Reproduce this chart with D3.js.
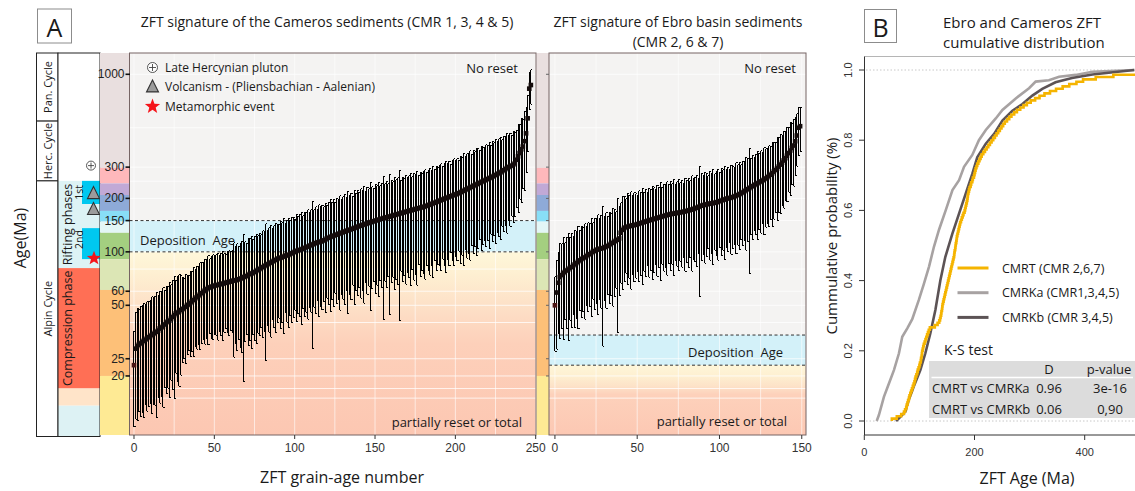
<!DOCTYPE html>
<html><head><meta charset="utf-8">
<script src="https://cdn.jsdelivr.net/npm/d3@7"></script>
<style>
body{margin:0;background:#fff}
svg{display:block}
text{font-family:"Open Sans",sans-serif;fill:#1a1a1a}
.tk{font-family:"Liberation Sans",Arial,sans-serif;fill:#333}
</style>
</head><body>
<svg id="chart" width="1135" height="491"></svg>
<script>
// ---------------- DATA ----------------
// Panel A left: Cameros sediments (CMR 1,3,4,5) - central ZFT ages (Ma), sorted
const cmrAge = [
23,28.5,29.5,30,30.5,31,31.5,32,32.5,33,
33.5,34,34.5,35,35.5,36,37,37.5,38,39,
40,40.5,41,42,43,44,45,45.5,46,47,
47.5,48,49,50,50.5,51.5,52.5,53.5,54.5,55.5,
56.5,57.5,58.5,59.5,60.5,61.5,62.5,63,63.5,64,
64.5,65,65,65.5,66,66,66.5,67,67.5,67.5,
68,68.5,69,69,69.5,70,70.5,71,72,72.5,
73,74,75,75.5,76,77,78,79,80,81,
82,83,84,85,86,87,88,89,90,91,
92,92.5,93,94,95,95.5,96,97,98,99,
100,101,102,102.5,103,104,105,106,107,108,
109,110,111,112,113,113.5,114,115,116,117,
119,120,121,122,123,124,125,126,127,128,
129,130,131,132,133,134,135,136,137,138.5,
139.5,140.5,141.5,142.5,143.5,144.5,145.5,146.5,147.5,148.5,
149.5,150.5,151.5,152.5,153.5,154.5,155.5,156.5,157,158,
159,160,161,162,163,164,165,166,167,168,
169,170,171,172,173,174,175,176,177,178,
179,180,181.5,183,184.5,186,187.5,189,190.5,192,
194,195.5,197,199,200.5,202,204,205.5,207,209,
210.5,212,214,216,218,220.5,223,225,227.5,230,
232,234.5,237,239.5,242,244.5,247,249.5,252,254.5,
257,259.5,262,265,268,271,274,277,280,284,
288,292,296,300,303,306,310,315,330,345,
360,378,392,420,465,565,830,870];
// relative 2-sigma error (%) of each grain age
const cmrErr = [
55,60,62,58,61,60,63,57,61,59,
58,64,60,61,67,58,62,59,65,56,
60,58,63,55,61,66,54,59,62,57,
50,48,52,47,45,50,48,52,46,49,
47,51,48,46,50,47,52,45,49,50,
47,48,51,46,49,52,47,45,48,50,
47,49,63,56,60,54,59,62,74,57,
53,60,58,62,55,59,61,56,58,54,
60,57,71,55,59,62,53,58,61,56,
54,60,57,63,52,58,61,55,59,57,
53,60,56,58,62,54,59,57,61,55,
58,74,56,60,53,62,57,59,55,61,
54,58,62,56,60,53,59,57,63,55,
58,61,54,66,57,60,52,63,56,59,
55,61,57,64,53,60,56,68,58,54,
61,57,63,55,59,73,56,60,54,72,
58,55,62,57,60,75,53,59,56,61,
55,58,62,54,60,57,63,52,59,56,
58,61,54,57,60,55,62,53,59,56,
57,60,54,58,62,55,59,52,57,60,
55,58,53,60,56,62,54,59,57,61,
53,58,55,60,57,52,59,56,54,58,
55,60,52,57,54,59,53,56,58,51,
55,52,57,50,54,48,53,50,46,52,
45,50,42,47,40,35,24,22];

// Panel A right: Ebro basin sediments (CMR 2,6,7)
const ebroAge = [
50,59,67,72,74,76,77,78.5,79.5,81,
82,83.5,85,86.5,88,89.5,91,92,93,94.5,
96,97,98.5,100,101,102.5,103,104,104.5,105,
106,107,108,109.5,111,112.5,114,115.5,117,119,
128,133,136,137.5,138.5,139.5,140,141,141.5,142,
143,144,145,146,147,148,149,150,151,152,
153,154,155,156,157,158,159,160,161,162,
163,163.5,164,165,165.5,166,167,167.5,168,169,
170,171,172,173,174,175.5,177,178.5,180,182,
183,184,185,186,187,187.5,188,189,190,191,
193,194,196,197,199,200,201,202,203.5,205,
207,209,211,213,216,219,222,225,228,231,
234,237,240,243,246,249,252,255,259,263,
267,272,277,283,289,295,302,310,318,327,
337,348,360,372,385,397,420,452,500,510];
const ebroErr = [
45,52,48,55,50,58,46,53,60,49,
54,47,56,51,58,48,53,50,55,47,
52,49,56,46,53,50,57,48,54,72,
50,55,47,53,49,56,51,46,70,52,
48,54,50,45,53,49,56,47,52,50,
46,53,49,55,47,51,44,52,48,54,
50,45,53,48,56,46,51,49,54,47,
52,48,55,46,50,53,47,51,45,54,
49,52,46,55,48,50,53,45,69,51,
47,53,49,44,52,48,55,46,50,53,
45,51,48,54,47,50,44,52,49,46,
53,48,51,45,50,47,54,49,67,46,
50,44,48,52,46,49,43,51,47,45,
48,44,50,46,42,49,45,47,43,46,
42,45,40,44,38,41,36,33,30,28];

// deposition ages (Ma)
const cmrDeposition = [100, 150];
const ebroDeposition = [23, 34];

// tick labels
const ageTicks = [1000, 300, 200, 150, 100, 60, 50, 25, 20];
const ageGrid = [1000, 500, 300, 250, 200, 150, 100, 80, 60, 50, 40, 25, 20, 17, 15];
const grainTicksCmr = [0, 50, 100, 150, 200, 250];
const grainTicksEbro = [0, 50, 100, 150];
const grainGrid = [0, 25, 50, 75, 100, 125, 150, 175, 200, 225, 250];

// chronostratigraphic strip: boundaries (Ma)
const chronoBounds = [1318, 297, 243, 209, 170, 148, 128, 91, 61, 20, 9.3];
// geological cycles / phases (Ma)
const cycleNames = ["Pan. Cycle", "Herc. Cycle", "Alpin Cycle"];
const cycleBounds = [1318, 545, 251, 9.3];
const riftZone = [251, 81];
const rift1 = [251, 186];
const rift2 = [136, 91];
const compressionZone = [81, 17];
const postZone1 = [17, 13.6];
const postZone2 = [13.6, 9.3];
const plutonAge = 306;
const volcanismAges = [214, 174];
const metamorphicAge = 92;

// Panel B: ECDF knots (age Ma, cumulative prob)
const cmrkaAge = [22.5,26.5,35.6,44.7,53.8,62.9,68.9,78,87,99,108,117.5,126.5,135.6,147.7,160,172,181,196,208,220.5,238.6,250.7,274.9,299,311,335,353.6,383.8,414,490];
const cmrkaProb = [0,0.017,0.069,0.107,0.145,0.193,0.24,0.264,0.29,0.345,0.39,0.44,0.497,0.545,0.6,0.658,0.686,0.724,0.758,0.8,0.829,0.862,0.886,0.919,0.948,0.967,0.971,0.981,0.986,0.995,1];
const cmrkbAge = [57.6,65.5,74.5,80.6,89.7,101.7,110.8,119.9,129,138,147,159.7,171.8,183.9,196,205,220.5,235.6,250.7,268.8,287,305,323,347,377,414,490];
const cmrkbProb = [0,0.012,0.027,0.06,0.098,0.145,0.193,0.25,0.316,0.4,0.467,0.533,0.59,0.647,0.704,0.751,0.79,0.818,0.856,0.884,0.903,0.927,0.946,0.965,0.977,0.987,1];
const legendLabels = ["CMRT (CMR 2,6,7)", "CMRKa (CMR1,3,4,5)", "CMRKb (CMR 3,4,5)"];
const ksHeader = ["D", "p-value"];
const ksRows = [["CMRT vs CMRKa", "0.96", "3e-16"], ["CMRT vs CMRKb", "0.06", "0,90"]];
const probTicks = [0, 0.2, 0.4, 0.6, 0.8, 1.0];
const ageTicksB = [0, 200, 400];

// ---------------- STYLES ----------------
const chronoColors = ["#e9dfdf","#feb8bb","#c1a9d6","#8eaad8","#88def7","#e3f6f6","#a4cf80","#dce6b5","#fdc078","#feea94"];
const lineColors = ["#f5b400", "#a7a2a2", "#5c5355"];

// ---------------- DRAW ----------------
const svg = d3.select("#chart");
const defs = svg.append("defs");
const PT = 53, PB = 435;
const y = d3.scaleLog().domain([9.3, 1318]).range([PB, PT]);

function addGrad(id, stops) {
  const g = defs.append("linearGradient").attr("id", id).attr("x1", 0).attr("y1", 0).attr("x2", 0).attr("y2", 1);
  stops.forEach(s => g.append("stop").attr("offset", s[0]).attr("stop-color", s[1]));
}
addGrad("g1", [[0,"#fef7da"],[0.1,"#fef1d3"],[0.3,"#fde0c7"],[0.5,"#fdd0ba"],[1,"#fcc7b2"]]);
addGrad("g2", [[0,"#fef6d9"],[0.15,"#fef0d1"],[0.3,"#fde2c8"],[0.42,"#fdd1bb"],[1,"#fcc8b3"]]);

// "A" / "B" boxes
function letterBox(x, yy, w, h, t) {
  svg.append("rect").attr("x", x).attr("y", yy).attr("width", w).attr("height", h)
    .attr("fill", "#fff").attr("stroke", "#8c8c8c").attr("stroke-width", 1);
  svg.append("text").attr("x", x + w / 2).attr("y", yy + h / 2 + 1).attr("text-anchor", "middle")
    .attr("dominant-baseline", "central").style("font-size", "25px").text(t);
}
letterBox(37.5, 9, 34, 34, "A");
letterBox(864.5, 9.5, 32, 33, "B");

// titles
svg.append("text").attr("x", 327).attr("y", 27).attr("text-anchor", "middle").style("font-size", "14px")
  .text("ZFT signature of the Cameros sediments (CMR 1, 3, 4 & 5)");
svg.append("text").attr("x", 678).attr("y", 27).attr("text-anchor", "middle").style("font-size", "14px")
  .text("ZFT signature of Ebro basin sediments");
svg.append("text").attr("x", 678).attr("y", 47).attr("text-anchor", "middle").style("font-size", "14px")
  .text("(CMR 2, 6 & 7)");

// Age(Ma)
svg.append("text").attr("transform", "translate(20,238) rotate(-90)").attr("text-anchor", "middle")
  .attr("dominant-baseline", "central").style("font-size", "16px").text("Age(Ma)");

// cycles column
const cyc = svg.append("g");
cycleNames.forEach((n, i) => {
  const y0 = i === 0 ? PT : y(cycleBounds[i]);
  const y1 = i === cycleNames.length - 1 ? 436.5 : y(cycleBounds[i + 1]);
  cyc.append("rect").attr("x", 36.5).attr("y", y0).attr("width", 21.5).attr("height", y1 - y0)
    .attr("fill", "#fff").attr("stroke", "#222").attr("stroke-width", 1);
  cyc.append("text").attr("transform", `translate(47.5,${(y0 + y1) / 2}) rotate(-90)`).attr("text-anchor", "middle")
    .attr("dominant-baseline", "central").style("font-size", "11px").text(n);
});

// phases column
const ph = svg.append("g");
ph.append("rect").attr("x", 58).attr("y", PT).attr("width", 42).attr("height", 436.5 - PT).attr("fill", "#fff");
function zone(a, x0, x1, col, yEnd) {
  const yy0 = y(a[0]), yy1 = yEnd || y(a[1]);
  ph.append("rect").attr("x", x0).attr("y", yy0).attr("width", x1 - x0).attr("height", yy1 - yy0).attr("fill", col);
}
zone(riftZone, 58, 100, "#ddf3f5");
zone(rift1, 82, 100, "#00c8f0");
zone(rift2, 82, 100, "#00c8f0");
zone(compressionZone, 58, 100, "#ff6f55");
zone(postZone1, 58, 100, "#ffe4c9");
zone(postZone2, 58, 100, "#ddf2f4", 436.5);
ph.append("rect").attr("x", 58).attr("y", PT).attr("width", 42).attr("height", 436.5 - PT)
  .attr("fill", "none").attr("stroke", "#222").attr("stroke-width", 1);
const mid = (a) => (y(a[0]) + y(a[1])) / 2;
ph.append("text").attr("transform", `translate(67.5,${mid(riftZone)}) rotate(-90)`).attr("text-anchor", "middle")
  .attr("dominant-baseline", "central").style("font-size", "12.5px").text("Rifting phases");
ph.append("text").attr("transform", `translate(78.5,${mid(rift1)}) rotate(-90)`).attr("text-anchor", "middle")
  .attr("dominant-baseline", "central").style("font-size", "10.5px").text("1st");
ph.append("text").attr("transform", `translate(78.5,${mid(rift2) - 4}) rotate(-90)`).attr("text-anchor", "middle")
  .attr("dominant-baseline", "central").style("font-size", "10.5px").text("2nd");
ph.append("text").attr("transform", `translate(67.5,${mid(compressionZone)}) rotate(-90)`).attr("text-anchor", "middle")
  .attr("dominant-baseline", "central").style("font-size", "12.5px").text("Compression phase");

// symbols
function circlePlus(g, cx, cy, r) {
  g.append("circle").attr("cx", cx).attr("cy", cy).attr("r", r).attr("fill", "#fff").attr("stroke", "#444").attr("stroke-width", 0.9);
  g.append("path").attr("d", `M${cx - r + 1.5},${cy}H${cx + r - 1.5}M${cx},${cy - r + 1.5}V${cy + r - 1.5}`).attr("stroke", "#444").attr("stroke-width", 0.9);
}
function tri(g, cx, cy, s) {
  g.append("path").attr("d", `M${cx},${cy - s * 0.55}L${cx + s / 2},${cy + s * 0.45}L${cx - s / 2},${cy + s * 0.45}Z`)
    .attr("fill", "#9b9b9b").attr("stroke", "#333").attr("stroke-width", 1.1);
}
function star(g, cx, cy, R) {
  const pts = d3.range(10).map(i => {
    const a = -Math.PI / 2 + i * Math.PI / 5, rr = i % 2 ? R * 0.42 : R;
    return [cx + rr * Math.cos(a), cy + rr * Math.sin(a)];
  });
  g.append("path").attr("d", "M" + pts.join("L") + "Z").attr("fill", "#f5141a");
}
circlePlus(ph, 91, y(plutonAge), 4.5);
volcanismAges.forEach(a => tri(ph, 93.5, y(a), 12));
star(ph, 94, y(metamorphicAge), 7.5);

// chrono strips
function strip(x0, x1) {
  chronoColors.forEach((c, i) => {
    const yy0 = y(chronoBounds[i]), yy1 = y(chronoBounds[i + 1]);
    svg.append("rect").attr("x", x0).attr("y", yy0).attr("width", x1 - x0).attr("height", yy1 - yy0).attr("fill", c);
  });
}
strip(100, 129.5);
strip(536.5, 549);

// panels
function panel(cfg) {
  const { id, x0, x1, xs, ages, errs, dep, grad, gridX, ticksX } = cfg;
  defs.append("clipPath").attr("id", "cl" + id).append("rect")
    .attr("x", x0).attr("y", PT).attr("width", x1 - x0).attr("height", PB - PT);
  const g = svg.append("g").attr("clip-path", `url(#cl${id})`);
  g.append("rect").attr("x", x0).attr("y", PT).attr("width", x1 - x0).attr("height", PB - PT).attr("fill", "#f4f3f2");
  g.append("rect").attr("x", x0).attr("y", y(dep[1])).attr("width", x1 - x0).attr("height", y(dep[0]) - y(dep[1])).attr("fill", "#d3f1f9");
  g.append("rect").attr("x", x0).attr("y", y(dep[0])).attr("width", x1 - x0).attr("height", PB - y(dep[0])).attr("fill", `url(#${grad})`);
  g.selectAll(".gy").data(ageGrid).join("line").attr("x1", x0).attr("x2", x1)
    .attr("y1", d => y(d)).attr("y2", d => y(d)).attr("stroke", "#fff").attr("stroke-opacity", 0.75).attr("stroke-width", 1);
  g.selectAll(".gx").data(gridX).join("line").attr("y1", PT).attr("y2", PB)
    .attr("x1", d => xs(d)).attr("x2", d => xs(d)).attr("stroke", "#fff").attr("stroke-opacity", 0.6).attr("stroke-width", 1);
  g.selectAll(".dl").data(dep).join("line").attr("x1", x0).attr("x2", x1)
    .attr("y1", d => y(d)).attr("y2", d => y(d)).attr("stroke", "#333").attr("stroke-width", 1).attr("stroke-dasharray", "3,2.5");
  const lo = (d, i) => y(d * (1 - errs[i] / 100));
  const hi = (d, i) => y(d * (1 + errs[i] / 100));
  const bars = g.append("g").attr("shape-rendering", "crispEdges");
  bars.selectAll(".eb").data(ages).join("line")
    .attr("x1", (d, i) => xs(i)).attr("x2", (d, i) => xs(i))
    .attr("y1", lo).attr("y2", hi).attr("stroke", "#000").attr("stroke-width", 1);
  bars.selectAll(".ct").data(ages).join("path")
    .attr("d", (d, i) => `M${xs(i)},${hi(d, i)}H${xs(i) + 1.6}M${xs(i)},${lo(d, i)}H${xs(i) + 1.6}`)
    .attr("stroke", "#000").attr("stroke-width", 1).attr("fill", "none");
  g.selectAll(".pt").data(ages).join("rect")
    .attr("x", (d, i) => xs(i) - 2.3).attr("y", d => y(d) - 2.3).attr("width", 4.6).attr("height", 4.6)
    .attr("fill", (d, i) => i === 0 ? "#4a1414" : "#140c0c");
  svg.append("rect").attr("x", x0).attr("y", PT).attr("width", x1 - x0).attr("height", PB - PT)
    .attr("fill", "none").attr("stroke", "#766464").attr("stroke-width", 1);
  const ax = svg.append("g");
  ticksX.forEach(t => {
    ax.append("line").attr("x1", xs(t)).attr("x2", xs(t)).attr("y1", PB).attr("y2", PB + 4).attr("stroke", "#333").attr("stroke-width", 1);
    ax.append("text").attr("class", "tk").attr("x", xs(t)).attr("y", 452).attr("text-anchor", "middle").style("font-size", "12px").text(t);
  });
  return g;
}
const xs1 = d3.scaleLinear().domain([-2.8, 250]).range([129.5, 535.7]);
const xs2 = d3.scaleLinear().domain([-3.6, 152.4]).range([549, 805.7]);
panel({ id: 1, x0: 129.5, x1: 536, xs: xs1, ages: cmrAge, errs: cmrErr, dep: cmrDeposition, grad: "g1", gridX: grainGrid, ticksX: grainTicksCmr });
panel({ id: 2, x0: 549, x1: 806, xs: xs2, ages: ebroAge, errs: ebroErr, dep: ebroDeposition, grad: "g2", gridX: grainGrid.filter(d => d <= 150), ticksX: grainTicksEbro });

// y axis panel 1
ageTicks.forEach(t => {
  svg.append("line").attr("x1", 125.5).attr("x2", 130).attr("y1", y(t)).attr("y2", y(t)).attr("stroke", "#111").attr("stroke-width", 1.6);
  svg.append("text").attr("class", "tk").attr("x", 124.5).attr("y", y(t)).attr("text-anchor", "end")
    .attr("dominant-baseline", "central").style("font-size", "12px").style("fill", "#222").text(t);
  svg.append("line").attr("x1", 546).attr("x2", 549).attr("y1", y(t)).attr("y2", y(t)).attr("stroke", "#666").attr("stroke-width", 1);
});

// panel annotations
function txt(x, yy, t, anchor, size) {
  svg.append("text").attr("x", x).attr("y", yy).attr("text-anchor", anchor || "start")
    .attr("dominant-baseline", "central").style("font-size", (size || 13) + "px").style("white-space", "pre").text(t);
}
txt(518, 67.5, "No reset", "end");
txt(140, 239.5, "Deposition  Age", "start");
txt(522, 421.5, "partially reset or total", "end");
txt(796, 67.5, "No reset", "end");
txt(783, 352, "Deposition  Age", "end");
txt(787, 421, "partially reset or total", "end");

// legend panel A
const lg = svg.append("g");
circlePlus(lg, 152.5, 67.5, 5);
tri(lg, 152.5, 86.5, 12);
star(lg, 152.5, 106.5, 8);
txt(165, 67.5, "Late Hercynian pluton", "start", 12);
txt(165, 86.5, "Volcanism - (Pliensbachian - Aalenian)", "start", 12);
txt(165, 106.5, "Metamorphic event", "start", 12);

svg.append("text").attr("x", 342).attr("y", 483).attr("text-anchor", "middle").style("font-size", "16px").text("ZFT grain-age number");

// ---------------- PANEL B ----------------
const xB = d3.scaleLinear().domain([0, 500]).range([864.3, 1139.8]);
const yB = d3.scaleLinear().domain([0, 1]).range([421, 70]);
svg.append("text").attr("x", 943).attr("y", 28).style("font-size", "15px").text("Ebro and Cameros ZFT");
svg.append("text").attr("x", 943).attr("y", 48).style("font-size", "15px").text("cumulative distribution");

svg.append("line").attr("x1", 864.5).attr("x2", 1135).attr("y1", 56.5).attr("y2", 56.5).attr("stroke", "#b5b5b5").attr("stroke-width", 1.2);
svg.append("line").attr("x1", 864.5).attr("x2", 864.5).attr("y1", 56.5).attr("y2", 435).attr("stroke", "#333").attr("stroke-width", 1);
svg.append("line").attr("x1", 864.5).attr("x2", 1135).attr("y1", 435).attr("y2", 435).attr("stroke", "#333").attr("stroke-width", 1);
[0, 1].forEach(p => svg.append("line").attr("x1", 866).attr("x2", 1135).attr("y1", yB(p)).attr("y2", yB(p))
  .attr("stroke", "#c8c8c8").attr("stroke-width", 1).attr("stroke-dasharray", "1.5,2"));
probTicks.forEach(p => {
  svg.append("line").attr("x1", 859).attr("x2", 864.5).attr("y1", yB(p)).attr("y2", yB(p)).attr("stroke", "#333");
  svg.append("text").attr("class", "tk").attr("transform", `translate(848,${yB(p)}) rotate(-90)`).attr("text-anchor", "middle")
    .attr("dominant-baseline", "central").style("font-size", "11px").text(p.toFixed(1));
});
ageTicksB.forEach(t => {
  svg.append("line").attr("x1", xB(t)).attr("x2", xB(t)).attr("y1", 435).attr("y2", 440).attr("stroke", "#333");
  svg.append("text").attr("class", "tk").attr("x", xB(t)).attr("y", 456).attr("text-anchor", "middle").style("font-size", "11px").text(t);
});
svg.append("text").attr("x", 1027).attr("y", 484).attr("text-anchor", "middle").style("font-size", "16px").text("ZFT Age (Ma)");
svg.append("text").attr("transform", "translate(831,236) rotate(-90)").attr("text-anchor", "middle")
  .attr("dominant-baseline", "central").style("font-size", "15px").text("Cummulative probability (%)");

// curves
const lineB = d3.line().x(d => xB(d[0])).y(d => yB(d[1]));
svg.append("path").datum(cmrkaAge.map((a, i) => [a, cmrkaProb[i]])).attr("d", lineB)
  .attr("fill", "none").attr("stroke", lineColors[1]).attr("stroke-width", 2.6);
svg.append("path").datum(cmrkbAge.map((a, i) => [a, cmrkbProb[i]])).attr("d", lineB)
  .attr("fill", "none").attr("stroke", lineColors[2]).attr("stroke-width", 2.6);
const srt = ebroAge.slice().sort((a, b) => a - b);
const ecdf = [[srt[0], 0]].concat(srt.map((a, i) => [a, (i + 1) / srt.length]));
svg.append("path").datum(ecdf).attr("d", d3.line().x(d => xB(d[0])).y(d => yB(d[1])).curve(d3.curveStepAfter))
  .attr("fill", "none").attr("stroke", lineColors[0]).attr("stroke-width", 2.6);

// legend B
legendLabels.forEach((l, i) => {
  const yy = 268 + i * 24.7;
  svg.append("line").attr("x1", 957.5).attr("x2", 988.5).attr("y1", yy).attr("y2", yy).attr("stroke", lineColors[i]).attr("stroke-width", 3);
  txt(1002, yy, l, "start", 12.5);
});

// K-S table
txt(944, 349, "K-S test", "start", 14);
svg.append("rect").attr("x", 929).attr("y", 361).attr("width", 206).attr("height", 57).attr("fill", "#dcdcdc");
svg.append("line").attr("x1", 931.5).attr("x2", 1133).attr("y1", 377.5).attr("y2", 377.5).attr("stroke", "#fff").attr("stroke-width", 1.5);
txt(1049, 369, ksHeader[0], "middle", 13);
txt(1109, 369, ksHeader[1], "middle", 13);
ksRows.forEach((r, i) => {
  const yy = 388 + i * 20.5;
  txt(932, yy, r[0], "start", 13);
  txt(1049, yy, r[1], "middle", 13);
  txt(1110, yy, r[2], "middle", 13);
});
</script>
</body></html>
